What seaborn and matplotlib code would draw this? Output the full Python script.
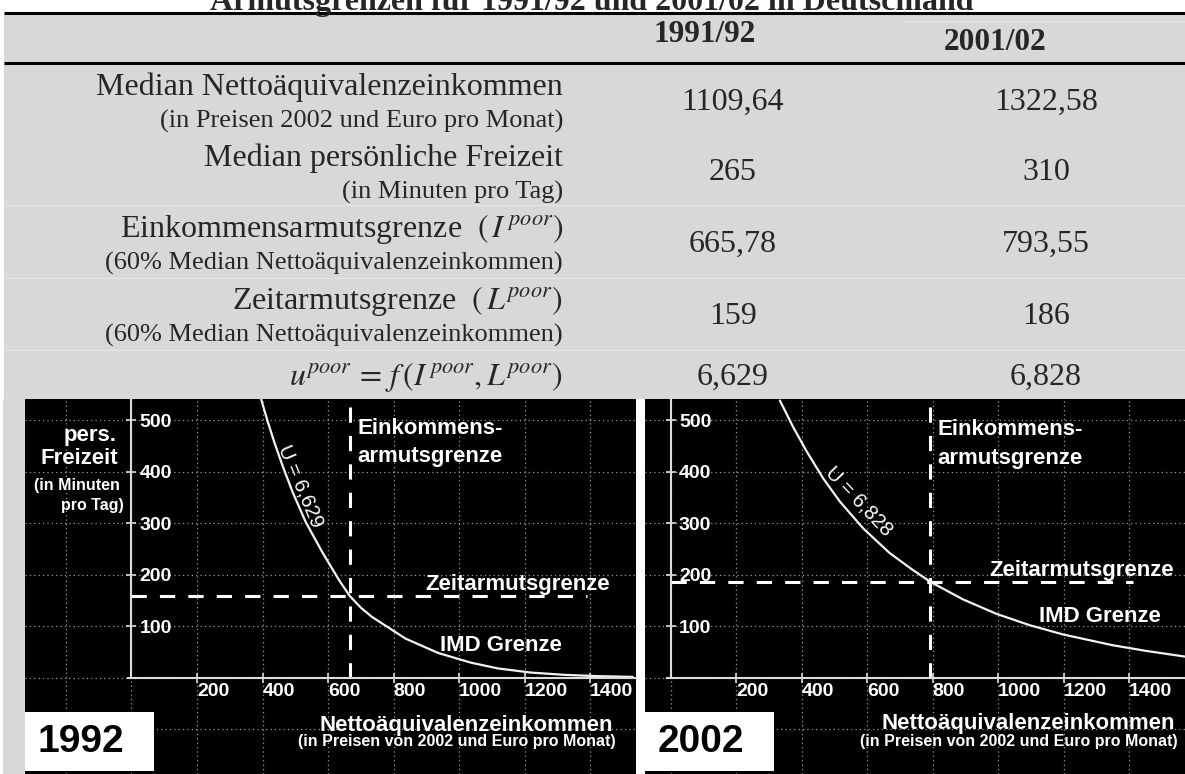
import matplotlib
matplotlib.use("Agg")
import matplotlib.pyplot as plt
import matplotlib.patches as mpatches
from matplotlib.ticker import MultipleLocator
import seaborn as sb

# table data
years = ["1991/92", "2001/02"]
row_titles = ["Median Nettoäquivalenzeinkommen",
              "Median persönliche Freizeit",
              "Einkommensarmutsgrenze  $(\\,I^{\\,poor})$",
              "Zeitarmutsgrenze  $(\\,L^{poor})$",
              "$u^{poor}\\,=\\,f\\,(I^{\\,poor}, L^{poor})$"]
row_subtitles = ["(in Preisen 2002 und Euro pro Monat)",
                 "(in Minuten pro Tag)",
                 "(60% Median Nettoäquivalenzeinkommen)",
                 "(60% Median Nettoäquivalenzeinkommen)",
                 ""]
median_income = [1109.64, 1322.58]
median_leisure = [265, 310]
income_poverty = [665.78, 793.55]
time_poverty = [159, 186]
u_poor = [6.629, 6.828]

# indifference curves (IMD Grenze)
curve92_income = [396, 416, 436, 462, 492, 532, 583, 633, 665.78, 700, 734, 836, 936, 1037, 1118, 1218, 1321, 1420, 1530]
curve92_leisure = [540, 497, 457, 410, 360, 302, 243, 190, 159, 136, 118, 76, 48, 29, 18, 10, 5.5, 3, 1.5]
curve02_income = [334, 374, 415, 466, 517, 588, 669, 740, 793.55, 893, 995, 1096, 1198, 1350, 1452, 1570]
curve02_leisure = [538, 487, 440, 387, 342, 290, 242, 209, 186, 152, 124, 102, 84, 63, 52, 41]

panel_years = ["1992", "2002"]
x_ticks = [200, 400, 600, 800, 1000, 1200, 1400]
y_ticks = [100, 200, 300, 400, 500]


def de(v, nd):
    return f"{v:.{nd}f}".replace(".", ",")


sb.set_theme(style="white")
plt.rcParams["font.family"] = ["Liberation Sans", "DejaVu Sans"]
plt.rcParams["mathtext.fontset"] = "stix"

W, H = 1185, 774
fig = plt.figure(figsize=(W / 100, H / 100), dpi=100, facecolor="white")

SERIF = "Liberation Serif"
GRAY = "#d8d8d8"

# background / table (pixel coordinates)
bg = fig.add_axes([0, 0, 1, 1])
bg.set_xlim(0, W)
bg.set_ylim(H, 0)
bg.axis("off")
bg.add_patch(mpatches.Rectangle((4, 13), W - 4, 386, color=GRAY, lw=0))
bg.add_patch(mpatches.Rectangle((3, 399), 22, 375, color=GRAY, lw=0))
bg.hlines([13, 63], 4, W, color="black", lw=2.2)
bg.hlines([205, 278, 350], 4, W, color="#e6e6e6", lw=0.8)
bg.hlines([21], 904, W, color="#e6e6e6", lw=0.8)

bg.text(592, 10, "Armutsgrenzen für 1991/92 und 2001/02 in Deutschland",
        ha="center", va="baseline", fontsize=23, weight="bold", family=SERIF)

col_x = [733, 1046]
head_x = [705, 995]
head_y = [35, 43]
for hx, hy, yr in zip(head_x, head_y, years):
    bg.text(hx, hy, yr, ha="center", va="center", fontsize=22.5, weight="bold", family=SERIF)

row_y = [102, 173, 244, 316, 377]
values = [[de(v, 2) for v in median_income],
          [str(v) for v in median_leisure],
          [de(v, 2) for v in income_poverty],
          [str(v) for v in time_poverty],
          [de(v, 3) for v in u_poor]]
for i, ry in enumerate(row_y):
    if row_subtitles[i]:
        bg.text(563, ry - 15, row_titles[i], ha="right", va="center", fontsize=23, family=SERIF)
        bg.text(563, ry + 19, row_subtitles[i], ha="right", va="center", fontsize=19, family=SERIF)
    else:
        bg.text(563, ry, row_titles[i], ha="right", va="center", fontsize=23, family=SERIF)
    for cx, val in zip(col_x, values[i]):
        bg.text(cx, ry, val, ha="center", va="center", fontsize=23, family=SERIF)


def px_axes(x, y, w, h, **kw):
    return fig.add_axes([x / W, 1 - (y + h) / H, w / W, h / H], **kw)


AXC = "#dcdcdc"
YLIM = (-187, 541)
panel_boxes = [(25, 399, 611, 375), (645, 399, 540, 375)]
panel_xlims = [(-325, 1540), (-78, 1571)]
curves = [(curve92_income, curve92_leisure), (curve02_income, curve02_leisure)]
hline_end = [1390, 1412]
u_label_pos = [(517, 372, -66.8), (576, 343, -46.4)]
ek_pos = [(689, 484), (815, 481)]
za_pos = [(896, 180), (973, 209)]
imd_pos = [(942, 63), (1126, 119)]
xt_pos = [(1471, -92, 1479, -124), (1540, -88, 1550, -124)]

for k in range(2):
    ax = px_axes(*panel_boxes[k])
    ax.set_facecolor("black")
    ax.set_xlim(*panel_xlims[k])
    ax.set_ylim(*YLIM)

    # dotted grid
    ax.set_xticks(x_ticks)
    ax.set_yticks(y_ticks)
    ax.xaxis.set_minor_locator(MultipleLocator(200))
    ax.yaxis.set_minor_locator(MultipleLocator(100))
    ax.grid(which="both", color="#9a9a9a", linestyle=(0, (1, 2.5)), lw=0.9)
    ax.set_axisbelow(True)

    # axes through the origin
    for s in ["top", "right"]:
        ax.spines[s].set_visible(False)
    ax.spines["left"].set_position(("data", 0))
    ax.spines["bottom"].set_position(("data", 0))
    ax.spines["left"].set_bounds(0, YLIM[1])
    ax.spines["bottom"].set_bounds(-12, panel_xlims[k][1])
    for s in ["left", "bottom"]:
        ax.spines[s].set_color(AXC)
        ax.spines[s].set_linewidth(1.5)
    ax.tick_params(which="minor", length=0)
    ax.tick_params(axis="y", which="major", direction="inout", length=7, width=1.2, color=AXC,
                   pad=-9.5, labelcolor="white", labelsize=14, left=True)
    ax.tick_params(axis="x", which="major", direction="inout", length=7, width=1.2, color=AXC,
                   pad=0.5, labelcolor="white", labelsize=14, bottom=True)
    plt.setp(ax.get_yticklabels(), ha="left", weight="bold")
    plt.setp(ax.get_xticklabels(), ha="left", weight="bold")

    # poverty lines
    ax.vlines(income_poverty[k], 0, YLIM[1], color="white", lw=2.2, linestyles=[(0, (5, 4.3))])
    ax.hlines(time_poverty[k], 0, hline_end[k], color="white", lw=2.2, linestyles=[(0, (5, 4.3))])

    # IMD curve
    sb.lineplot(x=curves[k][0], y=curves[k][1], ax=ax, color="#f2f2f2", linewidth=1.6,
                sort=False, estimator=None)

    ux, uy, rot = u_label_pos[k]
    ax.text(ux, uy, f"U = {de(u_poor[k], 3)}", color="white", fontsize=14.5, rotation=rot,
            rotation_mode="anchor", ha="center", va="center")
    ex, ey = ek_pos[k]
    ax.text(ex, ey, "Einkommens-", color="white", fontsize=16, weight="bold", ha="left", va="center")
    ax.text(ex, ey - 55, "armutsgrenze", color="white", fontsize=16, weight="bold", ha="left", va="center")
    ax.text(*za_pos[k], "Zeitarmutsgrenze", color="white", fontsize=16, weight="bold", ha="left", va="center")
    ax.text(*imd_pos[k], "IMD Grenze", color="white", fontsize=16, weight="bold", ha="left", va="center")
    tx, ty, sx, sy = xt_pos[k]
    ax.text(tx, ty, "Nettoäquivalenzeinkommen", color="white", fontsize=16, weight="bold",
            ha="right", va="center")
    ax.text(sx, sy, "(in Preisen von 2002 und Euro pro Monat)", color="white", fontsize=11.5,
            weight="bold", ha="right", va="center")

    if k == 0:
        ax.text(-44, 471, "pers.", color="white", fontsize=16, weight="bold", ha="right", va="center")
        ax.text(-41, 426, "Freizeit", color="white", fontsize=16, weight="bold", ha="right", va="center")
        ax.text(-35, 374, "(in Minuten", color="white", fontsize=11.5, weight="bold", ha="right", va="center")
        ax.text(-23, 335, "pro Tag)", color="white", fontsize=11.5, weight="bold", ha="right", va="center")
    ax.set_xlabel("")
    ax.set_ylabel("")

# year boxes on top of the panels
top = fig.add_axes([0, 0, 1, 1], zorder=10)
top.set_xlim(0, W)
top.set_ylim(H, 0)
top.axis("off")
top.patch.set_alpha(0)
box_x = [25, 645]
for bx, yr in zip(box_x, panel_years):
    top.add_patch(mpatches.Rectangle((bx, 712), 129, 59, color="white", lw=0))
    top.text(bx + 56, 742, yr, ha="center", va="center", fontsize=28, weight="bold", color="black")

fig.savefig("out.png", dpi=100)
